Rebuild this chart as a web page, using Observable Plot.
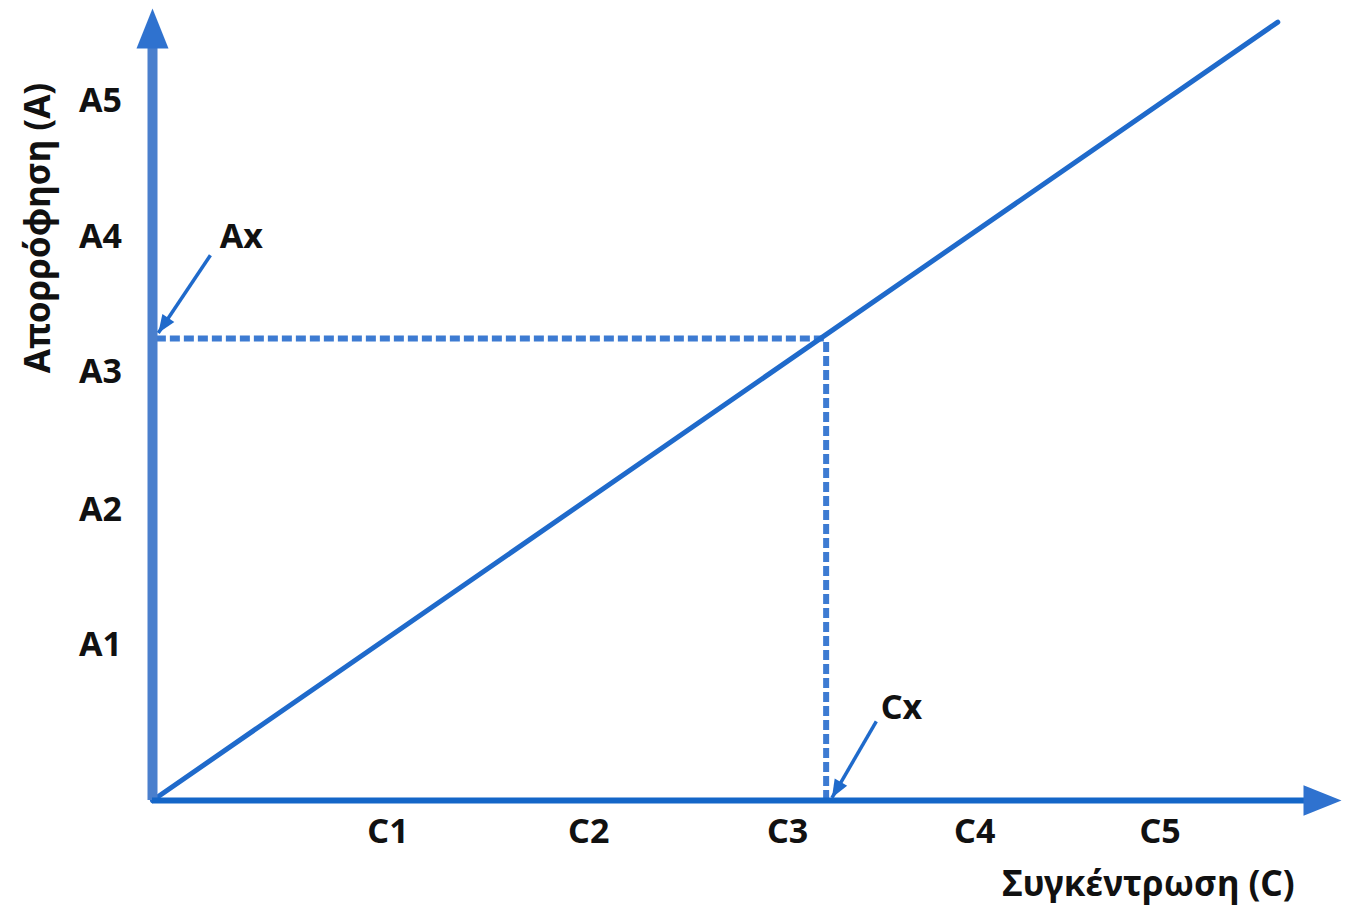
<!DOCTYPE html>
<html>
<head>
<meta charset="utf-8">
<script src="https://cdn.jsdelivr.net/npm/d3@7"></script>
<script src="https://cdn.jsdelivr.net/npm/@observablehq/plot@0.6"></script>
<style>
  html, body { margin: 0; padding: 0; background: #fff; }
</style>
</head>
<body>
<div id="chart"></div>
<script>
// --- data ---
const xTickLabels = ["C1", "C2", "C3", "C4", "C5"];
const xTickValues = [1.22, 2.26, 3.29, 4.26, 5.22];
const yTickLabels = ["A1", "A2", "A3", "A4", "A5"];
const yTickValues = [1.14, 2.13, 3.14, 4.13, 5.13];
const calibration = [{c: 0, a: 0}, {c: 5.83, a: 5.71}];   // calibration line
const unknown = {c: 3.49, a: 3.39};                        // Cx, Ax
const axisEnds = {c: 6.16, a: 5.81};
const xTitle = "Συγκέντρωση (C)";
const yTitle = "Απορρόφηση (A)";
const pointers = [
  {label: "Ax", x1: 0.30, y1: 4.0, x2: 0.03, y2: 3.43, lx: 0.46, ly: 4.13},
  {label: "Cx", x1: 3.75, y1: 0.58, x2: 3.52, y2: 0.02, lx: 3.88, ly: 0.675}
];

const font = "Noto Sans";

const arrowHead = {
  draw(context, size) {
    const r = Math.sqrt(size / Math.PI);
    context.moveTo(0, 0);
    context.lineTo(0.8 * r, 2 * r);
    context.lineTo(-0.8 * r, 2 * r);
    context.closePath();
  }
};

const chart = Plot.plot({
  width: 1347,
  height: 907,
  margin: 0,
  style: {background: "#fff", fontFamily: font},
  x: {domain: [0, axisEnds.c], range: [152, 1341], axis: null},
  y: {domain: [0, axisEnds.a], range: [800, 8], axis: null},
  marks: [
    // dashed guide lines
    Plot.ruleY([unknown.a], {x1: 0.02, x2: unknown.c, stroke: "#3d7bd2", strokeWidth: 6, strokeDasharray: "10,4"}),
    Plot.ruleX([unknown.c], {y1: 0, y2: unknown.a, stroke: "#3d7bd2", strokeWidth: 6, strokeDasharray: "10,4"}),
    // calibration line
    Plot.line(calibration, {x: "c", y: "a", stroke: "#1f6acb", strokeWidth: 5}),
    // axes
    Plot.ruleX([0], {y1: 0, y2: axisEnds.a - 0.2, stroke: "#4a7fcd", strokeWidth: 10}),
    Plot.ruleY([0], {x1: 0, x2: axisEnds.c - 0.15, stroke: "#1466c8", strokeWidth: 6}),
    Plot.dot([{c: 0, a: axisEnds.a}], {x: "c", y: "a", symbol: arrowHead, r: 20, fill: "#2f72cf", stroke: null}),
    Plot.dot([{c: axisEnds.c, a: 0}], {x: "c", y: "a", symbol: arrowHead, r: 19, rotate: 90, fill: "#2f72cf", stroke: null}),
    // annotation arrows
    Plot.link(pointers, {x1: "x1", y1: "y1", x2: "x2", y2: "y2", stroke: "#1f6acb", strokeWidth: 3.5}),
    Plot.dot(pointers, {x: "x2", y: "y2", symbol: arrowHead, r: 9, rotate: (d, i) => i === 0 ? 214 : 210, fill: "#1f6acb", stroke: null}),
    Plot.text(pointers, {x: "lx", y: "ly", text: "label", fontSize: 34, fontWeight: "bold", fill: "#111"}),
    // tick labels
    Plot.text(xTickLabels, {x: (d, i) => xTickValues[i], y: -0.235, text: d => d, fontSize: 34, fontWeight: "bold", fill: "#111"}),
    Plot.text(yTickLabels, {x: -0.27, y: (d, i) => yTickValues[i], text: d => d, fontSize: 34, fontWeight: "bold", fill: "#111"}),
    // titles
    Plot.text([xTitle], {x: 5.16, y: -0.62, text: d => d, fontSize: 35, fontWeight: "bold", fill: "#111"}),
    Plot.text([yTitle], {x: -0.59, y: 4.2, text: d => d, rotate: -90, fontSize: 35, fontWeight: "bold", fill: "#111"})
  ]
});
document.getElementById("chart").append(chart);
</script>
</body>
</html>
